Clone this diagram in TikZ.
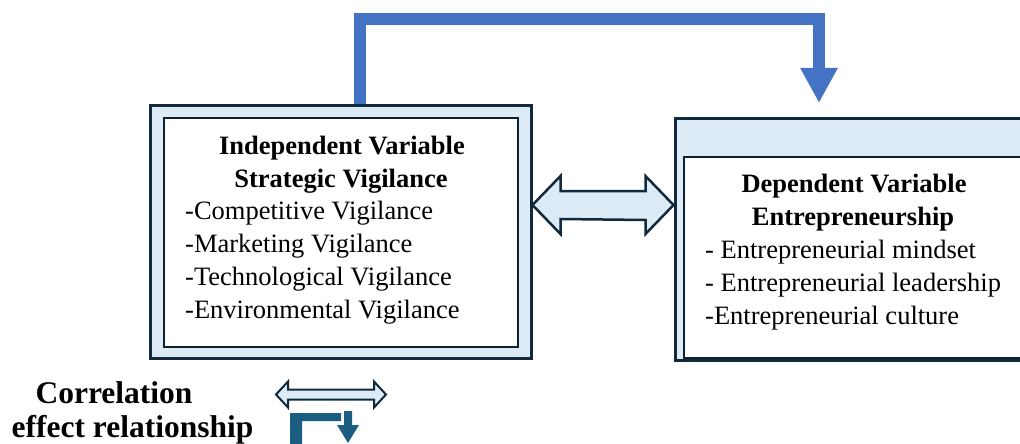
\documentclass[tikz,border=0pt]{standalone}
\usepackage{fontspec}
\setmainfont{Liberation Serif}
\usetikzlibrary{arrows.meta,calc}
\definecolor{navy}{HTML}{10293D}
\definecolor{paleblue}{HTML}{DDEBF7}
\definecolor{topblue}{HTML}{4472C4}
\definecolor{teal}{HTML}{1B5E82}
\tikzset{
  outerbox/.style={draw=navy, line width=3pt, fill=paleblue, inner sep=0pt},
  innerbox/.style={draw=navy!80!black, line width=1.5pt, fill=white, inner sep=0pt},
  body/.style={font=\fontsize{26.5}{33}\selectfont, anchor=base west, inner sep=0pt},
  head/.style={font=\bfseries\fontsize{26.5}{33}\selectfont, anchor=base, inner sep=0pt},
  legend/.style={font=\bfseries\fontsize{31.5}{36}\selectfont, anchor=base, inner sep=0pt},
  dblarrow/.style={draw=navy, fill=paleblue, line join=miter},
}
\begin{document}
\begin{tikzpicture}[x=1pt,y=-1pt]
\useasboundingbox (0,0) rectangle (1020,444);
\clip (0,0) rectangle (1020,444);
% top effect arrow
\coordinate (s) at (360,106);
\coordinate (c1) at (819,19);
\coordinate (hd) at (819,103);
\draw[topblue, line width=12pt, line join=miter, -{Triangle[width=35pt,length=35pt]}] (s) |- (c1) -- (hd);
% left box
\node[outerbox, minimum width=381pt, minimum height=253pt] (L) at (340.5,231.5) {};
\node[innerbox, minimum width=354pt, minimum height=229pt] (Li) at (341,232.5) {};
\node[head] (l1) at (342,154) {Independent Variable};
\node[head] (l2) at (341,187) {Strategic Vigilance};
\node[body] (l3) at (185,219) {-Competitive Vigilance};
\node[body] (l4) at (185,252) {-Marketing Vigilance};
\node[body] (l5) at (185,285) {-Technological Vigilance};
\node[body] (l6) at (185,318) {-Environmental Vigilance};
% right box
\node[outerbox, minimum width=365pt, minimum height=242pt] (R) at (857.5,239) {};
\node[innerbox, minimum width=356pt, minimum height=201pt] (Ri) at (862,257.5) {};
\node[head] (r1) at (854,192) {Dependent Variable};
\node[head] (r2) at (853,225) {Entrepreneurship};
\node[body] (r3) at (705,258) {- Entrepreneurial mindset};
\node[body] (r4) at (705,291) {- Entrepreneurial leadership};
\node[body] (r5) at (705,324) {-Entrepreneurial culture};
% correlation arrow between the boxes
\coordinate (ca) at (L.east |- 0,205);
\coordinate (cb) at (R.west |- 0,205);
\draw[dblarrow, line width=2.5pt] (ca) -- ++(28,-29) -- ++(0,15) -- ($(cb)+(-28,-14)$) -- ++(0,-15) -- (cb)
  -- ++(-28,29) -- ++(0,-14) -- ($(ca)+(28,14)$) -- ++(0,15) -- cycle;
% legend
\node[legend] (g1) at (114,403) {Correlation};
\node[legend] (g2) at (132.5,437) {effect relationship};
\coordinate (la) at (276,394.5);
\coordinate (lb) at (386,394.5);
\draw[dblarrow, line width=2pt] (la) -- ++(12,-13) -- ++(0,8) -- ($(lb)+(-12,-5)$) -- ++(0,-8) -- (lb)
  -- ++(-12,13) -- ++(0,-8) -- ($(la)+(12,5)$) -- ++(0,8) -- cycle;
\fill[teal] (290,445) -- (290,413) -- (341,413) -- (341,421) -- (302,421) -- (302,445) -- cycle;
\fill[teal] (344,411) -- (352,411) -- (352,425) -- (359,425) -- (348,443) -- (337,425) -- (344,425) -- cycle;
\end{tikzpicture}
\end{document}
